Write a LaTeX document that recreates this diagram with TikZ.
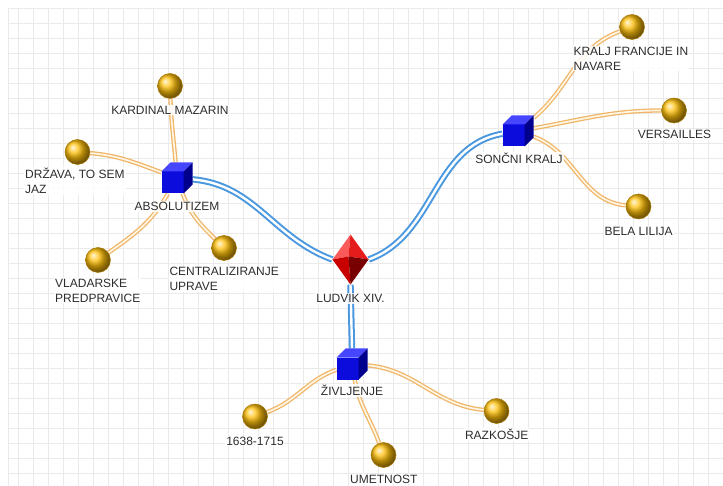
\documentclass[tikz,border=0pt]{standalone}
\usepackage{fontspec}
\setmainfont{Liberation Sans}
\usetikzlibrary{positioning,backgrounds}
\definecolor{gridgray}{RGB}{234,234,234}
\definecolor{gold}{RGB}{255,192,10}
\definecolor{goldrim}{RGB}{170,120,0}
\definecolor{linkblue}{RGB}{74,152,224}
\definecolor{linkorange}{RGB}{240,182,104}
\definecolor{linkcream}{RGB}{255,246,230}
\definecolor{cubefront}{RGB}{12,12,220}
\definecolor{cubetop}{RGB}{70,70,255}
\definecolor{cubeside}{RGB}{0,0,140}
\definecolor{gemlight}{RGB}{250,90,90}
\definecolor{gemred}{RGB}{228,28,28}
\definecolor{gemmid}{RGB}{200,0,0}
\definecolor{gemdark}{RGB}{120,0,0}
\definecolor{labeltext}{RGB}{45,45,45}

\begin{document}
\begin{tikzpicture}[
	x=1pt, y=-1pt,
	ball/.style={circle, minimum size=25pt, inner sep=0pt, shading=ball, ball color=gold, draw=goldrim, line width=0.5pt},
	cube/.style={rectangle, minimum size=31pt, inner sep=0pt, path picture={
		\fill[cubefront] (path picture bounding box.south west) rectangle ++(22pt,22pt);
		\fill[cubetop] ([yshift=22pt]path picture bounding box.south west) -- ++(22pt,0pt) -- ++(9pt,9pt) -- ++(-22pt,0pt) -- cycle;
		\fill[cubeside] ([xshift=22pt]path picture bounding box.south west) -- ++(9pt,9pt) -- ++(0pt,22pt) -- ++(-9pt,-9pt) -- cycle;
	}},
	gem/.style={rectangle, minimum width=36pt, minimum height=50pt, inner sep=0pt, path picture={
		\coordinate (gemmidpt) at ([shift={(-2pt,3pt)}]path picture bounding box.center);
		\fill[gemlight] (path picture bounding box.north) -- (path picture bounding box.west) -- (gemmidpt) -- cycle;
		\fill[gemred] (path picture bounding box.north) -- (gemmidpt) -- (path picture bounding box.east) -- cycle;
		\fill[gemmid] (path picture bounding box.west) -- (gemmidpt) -- (path picture bounding box.south) -- cycle;
		\fill[gemdark] (gemmidpt) -- (path picture bounding box.east) -- (path picture bounding box.south) -- cycle;
	}},
	lbl/.style={font=\fontsize{12}{15}\selectfont, text=labeltext, inner sep=1pt, fill=white, fill opacity=0.85, text opacity=1},
	lbltwo/.style={lbl, align=left, anchor=west},
	bluelink/.style={draw=linkblue, line width=2pt, double=white, double distance=2.4pt},
	orangelink/.style={draw=linkorange, line width=1.3pt, double=linkcream, double distance=1.7pt},
	]
	\useasboundingbox (0,0) rectangle (723,486);

	% centre and branches
	\node [gem] (ludvik) at (350.5,259.5) {};
	\node [cube] (abs) at (177,178) {};
	\node [cube] (sonce) at (518,131) {};
	\node [cube] (ziv) at (352,364) {};

	% leaves
	\node [ball] (mazarin) at (170,86) {};
	\node [ball] (drzava) at (77.5,152) {};
	\node [ball] (vlad) at (98,260) {};
	\node [ball] (central) at (224,248) {};
	\node [ball] (kralj) at (632,27) {};
	\node [ball] (versailles) at (674,110.5) {};
	\node [ball] (bela) at (638.5,206.5) {};
	\node [ball] (rok) at (255,416.5) {};
	\node [ball] (umetnost) at (383.5,455) {};
	\node [ball] (razkosje) at (496.5,411) {};

	% labels
	\node [lbl] (ludviklbl) at (350.5,298.5) {LUDVIK XIV.};
	\node [lbl] (abslbl) at (177,206.5) {ABSOLUTIZEM};
	\node [lbl] (soncelbl) at (519,158.8) {SONČNI KRALJ};
	\node [lbl] (zivlbl) at (352,390.8) {ŽIVLJENJE};
	\node [lbl] (mazarinlbl) at (170,110) {KARDINAL MAZARIN};
	\node [lbltwo] (drzavalbl) at (24,181.3) {DRŽAVA, TO SEM\\JAZ};
	\node [lbltwo] (vladlbl) at (54,290.4) {VLADARSKE\\PREDPRAVICE};
	\node [lbltwo] (centrallbl) at (168.3,279.2) {CENTRALIZIRANJE\\UPRAVE};
	\node [lbltwo] (kraljlbl) at (572.3,58.4) {KRALJ FRANCIJE IN\\NAVARE};
	\node [lbl] (versailleslbl) at (674.5,134.8) {VERSAILLES};
	\node [lbl] (belalbl) at (638.7,231) {BELA LILIJA};
	\node [lbl] (roklbl) at (255,441) {1638-1715};
	\node [lbl] (umetnostlbl) at (383.8,479) {UMETNOST};
	\node [lbl] (razkosjelbl) at (496.7,434.8) {RAZKOŠJE};

	\begin{scope}[on background layer]
		\fill[white] (0,0) rectangle (723,486);
		\foreach \gx in {8,18,33,...,723}
			\draw[gridgray, line width=0.8pt] (\gx,8) -- (\gx,486);
		\foreach \gy in {8,23,...,486}
			\draw[gridgray, line width=0.8pt] (8,\gy) -- (723,\gy);

		\draw[bluelink] (abs) to[out=-5,in=160] (ludvik.west);
		\draw[bluelink] (ludvik.east) to[out=20,in=190] (sonce);
		\draw[bluelink] (ludvik.south) -- (ziv.north);

		\draw[orangelink] (abs) to[out=95,in=-88] (mazarin);
		\draw[orangelink] (abs) to[out=160,in=-5] (drzava);
		\draw[orangelink] (abs) to[out=240,in=35] (vlad);
		\draw[orangelink] (abs) to[out=-70,in=135] (central);
		\draw[orangelink] (sonce) to[out=40,in=200] (kralj);
		\draw[orangelink] (sonce) to[out=10,in=180] (versailles);
		\draw[orangelink] (sonce) to[out=-20,in=175] (bela);
		\draw[orangelink] (ziv) to[out=200,in=20] (rok);
		\draw[orangelink] (ziv) to[out=-80,in=110] (umetnost);
		\draw[orangelink] (ziv) to[out=-5,in=175] (razkosje);
	\end{scope}
\end{tikzpicture}
\end{document}
